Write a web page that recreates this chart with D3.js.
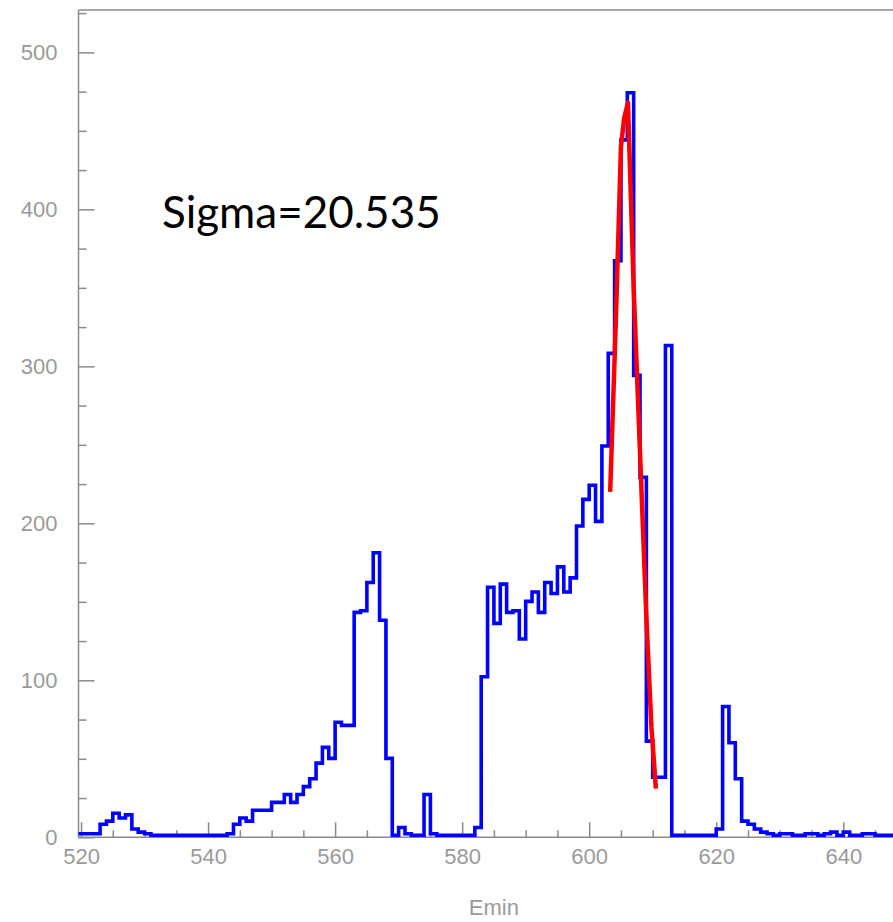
<!DOCTYPE html>
<html>
<head>
<meta charset="utf-8">
<script src="https://cdn.jsdelivr.net/npm/d3@7"></script>
<style>
  html, body { margin: 0; padding: 0; background: #fff; }
  svg { display: block; }
  .axis text { font-family: "Liberation Sans", Arial, sans-serif; font-size: 22px; fill: #9a9a9a; }
  .axis line, .axis path { stroke: #8a8a8a; stroke-width: 1.5; }
</style>
</head>
<body>
<svg id="chart" width="893" height="922"></svg>
<script>
// Emin histogram: 1-unit bins, first bin starts at 519
const binStart = 519;
const binWidth = 1;
const counts = [
  1, 1, 1, 1, 7, 9, 14, 11, 13, 4, 2, 1,            // 519-530
  0, 0, 0, 0, 0, 0, 0, 0, 0, 0, 0, 0,               // 531-542
  1, 7, 11, 9, 16, 16, 16, 21, 21, 26, 21, 26,      // 543-554
  31, 36, 46, 56, 49, 72, 70, 70, 142, 143, 161,    // 555-565
  180, 137, 49, 0, 5, 1, 0, 0, 26, 1,               // 566-575
  0, 0, 0, 0, 0, 0, 5, 101, 158, 135, 160,          // 576-586
  142, 143, 125, 149, 155, 142, 161, 154, 171,      // 587-595
  155, 164, 197, 214, 223, 200, 248, 307, 366,      // 596-604
  443, 473, 293, 228, 60, 37, 37, 312,              // 605-612
  0, 0, 0, 0, 0, 0, 0,                              // 613-619
  4, 82, 59, 36, 9, 7, 4, 2, 1, 0,                  // 620-629
  1, 1, 0, 0, 1, 1, 0, 1, 2, 0,                     // 630-639
  2, 0, 0, 1, 1, 0, 0, 0, 0                         // 640-648
];

// Gaussian fit curve over the main peak
const fitX = [603.3, 604.2, 605.0, 605.5, 606.1, 607.0, 608.0, 609.0, 609.8, 610.5];
const fitY = [220, 330, 440, 458, 468, 350, 245, 140, 70, 31];

// Axis ticks and labels
const xMajor = [520, 540, 560, 580, 600, 620, 640];
const xMinor = [525, 530, 535, 545, 550, 555, 565, 570, 575, 585, 590, 595, 605, 610, 615, 625, 630, 635, 645];
const yMajor = [0, 100, 200, 300, 400, 500];
const yMinor = [25, 50, 75, 125, 150, 175, 225, 250, 275, 325, 350, 375, 425, 450, 475, 525];
const xTitle = "Emin";
const note = "Sigma=20.535";

const svg = d3.select("#chart");
const plotLeft = 78.5, plotTop = 10, plotBottom = 837.3;
const x = d3.scaleLinear().domain([519.6, 650.4]).range([plotLeft, plotLeft + 130.8 * 6.352]);
const y = d3.scaleLinear().domain([0, 527]).range([plotBottom, plotTop]);

svg.append("defs").append("clipPath").attr("id", "plotClip")
  .append("rect").attr("x", plotLeft).attr("y", 0).attr("width", 900).attr("height", 922);

// frame top edge
svg.append("line").attr("x1", plotLeft).attr("x2", 900).attr("y1", plotTop).attr("y2", plotTop)
  .attr("stroke", "#8a8a8a").attr("stroke-width", 1.5);

// x axis
const gx = svg.append("g").attr("class", "axis").attr("transform", `translate(0,${plotBottom})`);
gx.call(d3.axisBottom(x).tickValues(xMajor).tickSize(-15).tickSizeOuter(0).tickPadding(11).tickFormat(d3.format("d")));
gx.select(".domain").attr("d", `M${plotLeft},0H900`);
const gxm = svg.append("g").attr("class", "axis").attr("transform", `translate(0,${plotBottom})`);
gxm.call(d3.axisBottom(x).tickValues(xMinor).tickSize(-7).tickSizeOuter(0).tickFormat(""));
gxm.select(".domain").remove();

// y axis
const gy = svg.append("g").attr("class", "axis").attr("transform", `translate(${plotLeft},0)`);
gy.call(d3.axisLeft(y).tickValues(yMajor).tickSize(-16).tickSizeOuter(0).tickPadding(21).tickFormat(d3.format("d")));
gy.select(".domain").attr("d", `M0,${plotTop}V${plotBottom}`);
const gym = svg.append("g").attr("class", "axis").attr("transform", `translate(${plotLeft},0)`);
gym.call(d3.axisLeft(y).tickValues(yMinor).tickSize(-8).tickSizeOuter(0).tickFormat(""));
gym.select(".domain").remove();

// histogram outline
const steps = counts.map((c, i) => [binStart + i * binWidth, c]);
steps.push([binStart + counts.length * binWidth, counts[counts.length - 1]]);
const stepLine = d3.line().curve(d3.curveStepAfter).x(d => x(d[0])).y(d => y(d[1]));
svg.append("g").attr("clip-path", "url(#plotClip)").attr("transform", "translate(0,-2)")
  .append("path").datum(steps)
  .attr("d", stepLine)
  .attr("fill", "none").attr("stroke", "#0000ff").attr("stroke-width", 3.6)
  .attr("stroke-linejoin", "miter");

// fit curve
const fitLine = d3.line().x(d => x(d[0])).y(d => y(d[1]));
svg.append("path").datum(fitX.map((v, i) => [v, fitY[i]]))
  .attr("d", fitLine)
  .attr("fill", "none").attr("stroke", "#ff0000").attr("stroke-width", 4.5)
  .attr("stroke-linejoin", "round");

// x title
svg.append("text").attr("x", (x.range()[0] + x.range()[1]) / 2).attr("y", 915)
  .attr("text-anchor", "middle")
  .style("font-family", "'Liberation Sans', Arial, sans-serif").style("font-size", "22px")
  .style("fill", "#9a9a9a").text(xTitle);

// annotation
svg.append("text").attr("x", 162).attr("y", 228)
  .style("font-family", "Lato, 'Open Sans', sans-serif").style("font-size", "44px")
  .style("fill", "#000").text(note);
</script>
</body>
</html>
